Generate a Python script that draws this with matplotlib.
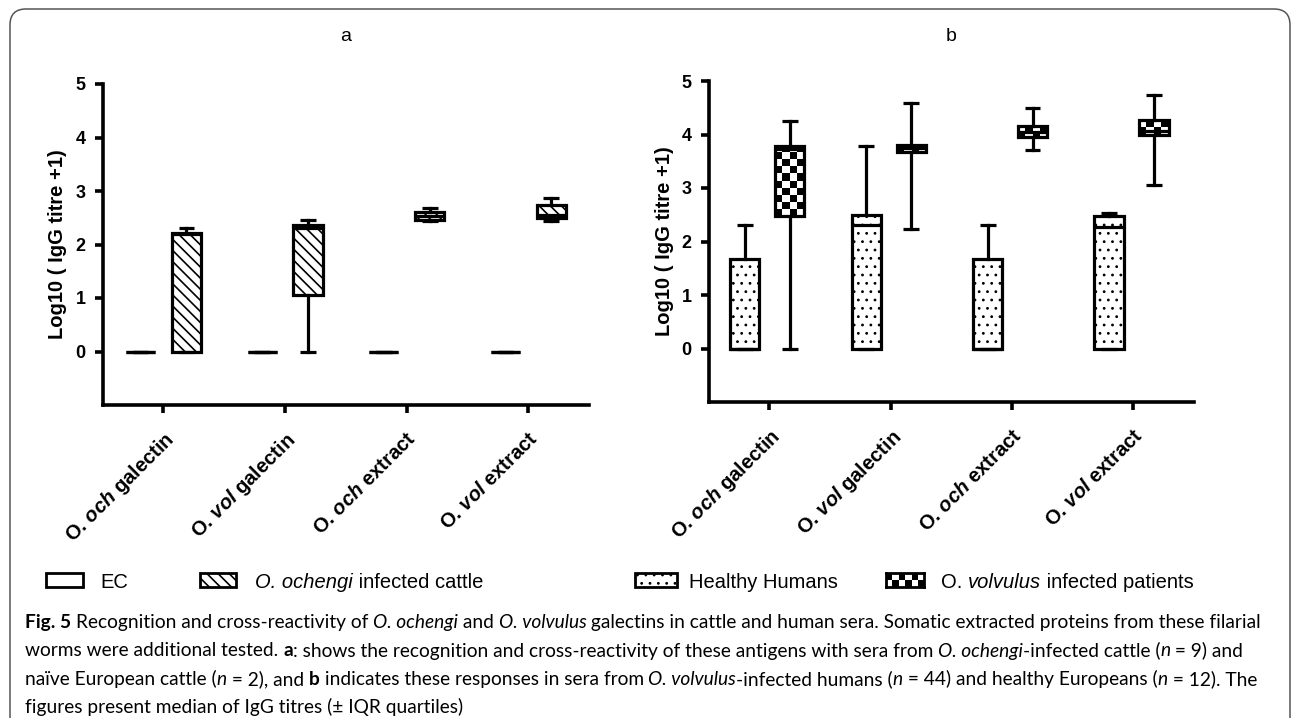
import numpy as np
import matplotlib
matplotlib.use('Agg')
import matplotlib.pyplot as plt
from matplotlib.patches import Rectangle, FancyBboxPatch
from matplotlib.transforms import IdentityTransform

W, H = 1296, 718

# x categories (the species abbreviation is set in bold italic)
antigens = ['O. $\\mathit{och}$ galectin', 'O. $\\mathit{vol}$ galectin',
            'O. $\\mathit{och}$ extract', 'O. $\\mathit{vol}$ extract']
yticks = [0, 1, 2, 3, 4, 5]

# five numbers per box: low whisker, Q1, median, Q3, high whisker
ec_cattle = [[0, 0, 0, 0, 0], [0, 0, 0, 0, 0], [0, 0, 0, 0, 0], [0, 0, 0, 0, 0]]
och_cattle = [[0, 0, 2.20, 2.22, 2.30],
              [0, 1.05, 2.30, 2.36, 2.45],
              [2.44, 2.46, 2.53, 2.60, 2.68],
              [2.44, 2.50, 2.56, 2.73, 2.86]]
healthy = [[0, 0, 0, 1.68, 2.30],
           [0, 0, 2.30, 2.50, 3.79],
           [0, 0, 0, 1.68, 2.30],
           [0, 0, 2.28, 2.47, 2.53]]
patients = [[0, 2.47, 3.72, 3.79, 4.26],
            [2.24, 3.67, 3.74, 3.80, 4.58],
            [3.71, 3.95, 4.04, 4.15, 4.50],
            [3.06, 4.00, 4.07, 4.27, 4.74]]

plt.rcParams['font.family'] = ['Liberation Sans', 'DejaVu Sans']
plt.rcParams['mathtext.fontset'] = 'custom'
plt.rcParams['mathtext.rm'] = 'Liberation Sans:bold'
plt.rcParams['mathtext.it'] = 'Liberation Sans:italic:bold'
plt.rcParams['mathtext.bf'] = 'Liberation Sans:bold'
plt.rcParams['hatch.linewidth'] = 1.2

lw = 2.3
fig = plt.figure(figsize=(W / 100, H / 100), dpi=100)


def stats(rows):
    return [dict(whislo=r[0], q1=r[1], med=r[2], q3=r[3], whishi=r[4]) for r in rows]


def checker(nrow, ncol):
    return np.add.outer(np.arange(nrow), np.arange(ncol)) % 2


def draw_boxes(ax, rows, pos, face, hatch=None, hatch_lw=None):
    res = ax.bxp(stats(rows), positions=pos, widths=0.24, capwidths=0.13,
                 patch_artist=True, showfliers=False, manage_ticks=False,
                 boxprops=dict(facecolor=face, edgecolor='black', linewidth=lw,
                               hatch=hatch, joinstyle='miter'),
                 medianprops=dict(color='black', linewidth=lw, solid_capstyle='butt'),
                 whiskerprops=dict(color='black', linewidth=lw),
                 capprops=dict(color='black', linewidth=lw, solid_capstyle='butt'))
    if hatch_lw is not None:
        for b in res['boxes']:
            if hasattr(b, 'set_hatch_linewidth'):
                b.set_hatch_linewidth(hatch_lw)
    return res


def setup(ax, title, title_pad):
    ax.set_xlim(-0.5, 3.5)
    ax.set_ylim(-1, 5)
    ax.set_yticks(yticks)
    ax.set_yticklabels([str(t) for t in yticks], fontsize=13, fontweight='bold')
    ax.set_xticks(range(4))
    ax.set_xticklabels(antigens, rotation=45, ha='right', va='top',
                       rotation_mode='anchor', fontsize=14.5, fontweight='bold')
    for s in ['top', 'right']:
        ax.spines[s].set_visible(False)
    for s in ['left', 'bottom']:
        ax.spines[s].set_linewidth(2.6)
    ax.tick_params(axis='both', length=6, width=2.6, direction='out')
    ax.tick_params(axis='y', pad=6)
    ax.tick_params(axis='x', pad=11)
    ax.set_ylabel('Log10 ( IgG titre +1)', fontsize=14.5, fontweight='bold')
    ax.yaxis.set_label_coords(-0.072, 0.5)
    ax.set_title(title, fontsize=14, pad=title_pad)


# panel a: cattle sera
ax1 = fig.add_axes([102.5 / W, 1 - 405 / H, 486.5 / W, 321 / H])
pos = np.arange(4)
draw_boxes(ax1, ec_cattle, pos - 0.187, 'white')
draw_boxes(ax1, och_cattle, pos + 0.19, 'white', hatch='\\\\\\')
setup(ax1, 'a', 31)

# panel b: human sera
ax2 = fig.add_axes([708.5 / W, 1 - 402 / H, 485.5 / W, 321 / H])
draw_boxes(ax2, healthy, pos - 0.2, 'white', hatch='..', hatch_lw=0.8)
res = draw_boxes(ax2, patients, pos + 0.17, 'none')
for box, r, x in zip(res['boxes'], patients, pos + 0.17):
    nrow = max(1, int(round((r[3] - r[1]) / 0.13)))
    im = ax2.imshow(checker(nrow, 4), cmap='gray', origin='lower', aspect='auto',
                    interpolation='nearest', extent=(x - 0.12, x + 0.12, r[1], r[3]),
                    zorder=1.9)
    im.set_clip_path(box)
setup(ax2, 'b', 29)

# legend swatches and labels (pixel positions from the top-left corner)
def px_rect(x0, y0, x1, y1, **kw):
    r = Rectangle((x0, H - y1), x1 - x0, y1 - y0, transform=IdentityTransform(), **kw)
    fig.add_artist(r)
    return r


px_rect(46, 573, 83, 587, facecolor='white', edgecolor='black', linewidth=2)
px_rect(200, 573, 236, 587, facecolor='white', edgecolor='black', linewidth=2, hatch='\\\\\\')
hh = px_rect(635, 573, 677, 587, facecolor='white', edgecolor='black', linewidth=2, hatch='..')
if hasattr(hh, 'set_hatch_linewidth'):
    hh.set_hatch_linewidth(0.8)
sw = fig.add_axes([886 / W, 1 - 587 / H, 38 / W, 14 / H])
sw.imshow(checker(2, 6), cmap='gray', aspect='auto', interpolation='nearest')
sw.set_xticks([])
sw.set_yticks([])
for s in sw.spines.values():
    s.set_linewidth(2)

rend = fig.canvas.get_renderer()
probe = fig.text(0, 0, '')


def advance(s, size, weight, style, family):
    probe.set(fontsize=size, fontweight=weight, fontstyle=style, family=family)
    probe.set_text('.' + s + '.')
    w1 = probe.get_window_extent(rend).width
    probe.set_text('..')
    w0 = probe.get_window_extent(rend).width
    probe.set_text('')
    return w1 - w0


def runs_text(x, y, runs, size, family):
    for s, wt, st in runs:
        fig.text(x / W, 1 - y / H, s, fontsize=size, fontweight=wt, fontstyle=st,
                 family=family, ha='left', va='baseline')
        x += advance(s, size, wt, st, family)


N, B, I = ('normal', 'normal'), ('bold', 'normal'), ('normal', 'italic')
leg_font = ['Liberation Sans', 'DejaVu Sans']
runs_text(100, 588, [('EC',) + N], 14.5, leg_font)
runs_text(255, 588, [('O. ochengi',) + I, (' infected cattle',) + N], 14.5, leg_font)
runs_text(689, 588, [('Healthy Humans',) + N], 14.5, leg_font)
runs_text(941, 588, [('O. ',) + N, ('volvulus',) + I, (' infected patients',) + N], 14.5, leg_font)

caption = [
    [('Fig. 5 ',) + B, ('Recognition and cross-reactivity of ',) + N, ('O. ochengi',) + I,
     (' and ',) + N, ('O. volvulus',) + I,
     (' galectins in cattle and human sera. Somatic extracted proteins from these filarial',) + N],
    [('worms were additional tested. ',) + N, ('a',) + B,
     (': shows the recognition and cross-reactivity of these antigens with sera from ',) + N,
     ('O. ochengi',) + I, ('-infected cattle (',) + N, ('n',) + I, (' = 9) and',) + N],
    [('naïve European cattle (',) + N, ('n',) + I, (' = 2), and ',) + N, ('b',) + B,
     (' indicates these responses in sera from ',) + N, ('O. volvulus',) + I,
     ('-infected humans (',) + N, ('n',) + I, (' = 44) and healthy Europeans (',) + N,
     ('n',) + I, (' = 12). The',) + N],
    [('figures present median of IgG titres (± IQR quartiles)',) + N],
]
cap_font = ['Lato', 'DejaVu Sans']
w12 = sum(advance(s, 12, wt, st, cap_font) for s, wt, st in caption[0])
cap_size = 12 * 1234 / w12
for line, yb in zip(caption, [628, 656.5, 685, 713.5]):
    runs_text(25, yb, line, cap_size, cap_font)

# rounded frame around the figure
fig.add_artist(FancyBboxPatch((10, -30), 1280, H - 9 + 30,
                              boxstyle='round,pad=0,rounding_size=16',
                              transform=IdentityTransform(), facecolor='none',
                              edgecolor='#555555', linewidth=1.1))

fig.savefig('out.png', dpi=100)
